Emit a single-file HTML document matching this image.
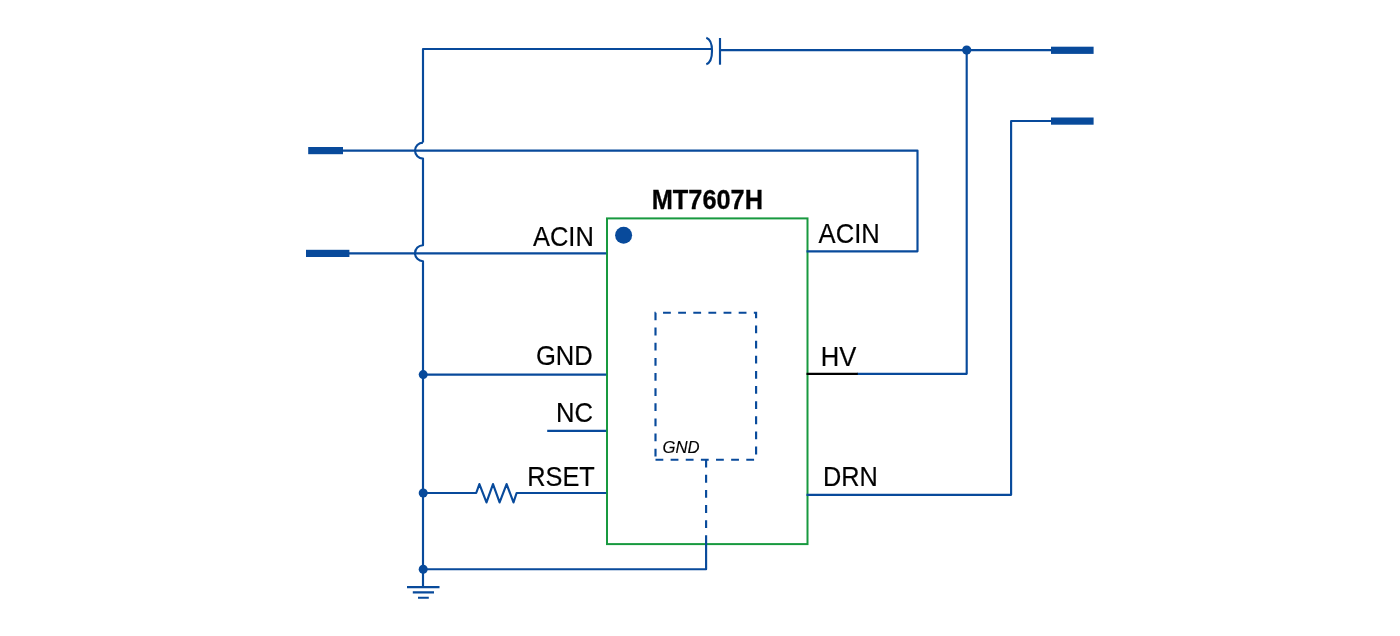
<!DOCTYPE html>
<html lang="en">
<head>
<meta charset="utf-8">
<title>MT7607H Typical Application</title>
<style>
  html, body { margin: 0; padding: 0; background: #ffffff; }
  body { width: 1400px; height: 636px; overflow: hidden; }
  svg { display: block; }
  .w { stroke: #084a9b; stroke-width: 2.15; fill: none; stroke-linejoin: round; stroke-linecap: butt; }
  .b { fill: #084a9b; stroke: none; }
  .g { stroke: #18993f; stroke-width: 2; fill: none; }
  .k { stroke: #000; stroke-width: 2.2; fill: none; }
  .d { stroke: #084a9b; stroke-width: 2.15; fill: none; stroke-dasharray: 7.8 7.33; }
  text { font-family: "Liberation Sans", sans-serif; fill: #000; }
  .pin { font-size: 27.3px; stroke: #000; stroke-width: 0.2px; }
  .title { font-size: 27.3px; font-weight: bold; stroke: #000; stroke-width: 0.3px; }
  .pad { font-size: 16.8px; font-style: italic; stroke: #000; stroke-width: 0.15px; }
</style>
</head>
<body>
<svg width="1400" height="636" viewBox="0 0 1400 636">
  <rect x="0" y="0" width="1400" height="636" fill="#ffffff"/>

  <!-- IC body -->
  <rect class="g" x="607" y="218.4" width="200.5" height="325.7"/>

  <!-- top rail with capacitor -->
  <path class="w" d="M423 142.6 V49 H711"/>
  <path class="w" d="M706.3 37.8 C713.9 40.4 713.9 61.6 706.3 64.2" stroke-width="2.5" stroke-linecap="round"/>
  <path class="w" d="M720 38 V64.7"/>
  <path class="w" d="M720 50.1 H1051"/>
  <circle class="b" cx="966.7" cy="50.1" r="4.6"/>
  <rect class="b" x="1051" y="46.7" width="42.6" height="7.2"/>

  <!-- second output terminal -->
  <rect class="b" x="1051" y="117.5" width="42.6" height="7.2"/>
  <path class="w" d="M1051 121 H1011.1 V494.8 H806.5"/>

  <!-- HV -->
  <path class="w" d="M966.7 50 V373.85 H857"/>
  <path class="k" d="M806.5 373.95 H857.8"/>

  <!-- input terminal 1 -->
  <rect class="b" x="308.2" y="147" width="34.8" height="7.2"/>
  <path class="w" d="M343 150.6 H917.5 V251.3 H806.5"/>

  <!-- input terminal 2 -->
  <rect class="b" x="306" y="249.8" width="43.4" height="7.2"/>
  <path class="w" d="M349 253.35 H606.2"/>

  <!-- left vertical with hops -->
  <path class="w" d="M423 142.6 A8 8 0 0 0 423 158.6 V245.2 A8 8 0 0 0 423 261.2 V587"/>

  <!-- GND pin -->
  <path class="w" d="M423 374.6 H606.2"/>
  <circle class="b" cx="423.2" cy="374.6" r="4.5"/>

  <!-- NC pin -->
  <path class="w" d="M547.2 430.8 H606.2"/>

  <!-- RSET with resistor -->
  <path class="w" d="M423 493 H476.2 L479.4 484.1 L486.5 502.4 L493 484.1 L499.6 502.4 L506.6 484.1 L513.5 502.4 L516.6 493 H606.2"/>
  <circle class="b" cx="423.2" cy="493" r="4.5"/>

  <!-- bottom return -->
  <path class="w" d="M423 569.2 H706.1 V543"/>
  <circle class="b" cx="423.2" cy="569.2" r="4.5"/>

  <!-- ground symbol -->
  <path class="w" d="M407 587.1 H439.5 M412.8 592.4 H434 M418 597.7 H428.8"/>

  <!-- pin 1 marker -->
  <circle class="b" cx="623.6" cy="235.2" r="8.5"/>

  <!-- exposed pad -->
  <path class="d" d="M655.5 459.7 H756.1 V312.7 H655.5 V459.7"/>
  <path class="d" d="M706.1 459.7 V544"/>

  <!-- labels -->
  <g class="lbl" style="opacity:0.999">
  <text class="title" transform="translate(651.7 208.8) scale(0.929 1)">MT7607H</text>
  <text class="pin" transform="translate(533 245.7) scale(0.933 1)">ACIN</text>
  <text class="pin" transform="translate(818.6 243.1) scale(0.938 1)">ACIN</text>
  <text class="pin" transform="translate(535.9 364.9) scale(0.938 1)">GND</text>
  <text class="pin" transform="translate(556.1 422) scale(0.938 1)">NC</text>
  <text class="pin" transform="translate(527.2 486) scale(0.929 1)">RSET</text>
  <text class="pin" transform="translate(820.8 365.8) scale(0.938 1)">HV</text>
  <text class="pin" transform="translate(823 486.4) scale(0.928 1)">DRN</text>
  <text class="pad" transform="translate(662.4 452.85) scale(0.995 1)">GND</text>
  </g>
</svg>
</body>
</html>
